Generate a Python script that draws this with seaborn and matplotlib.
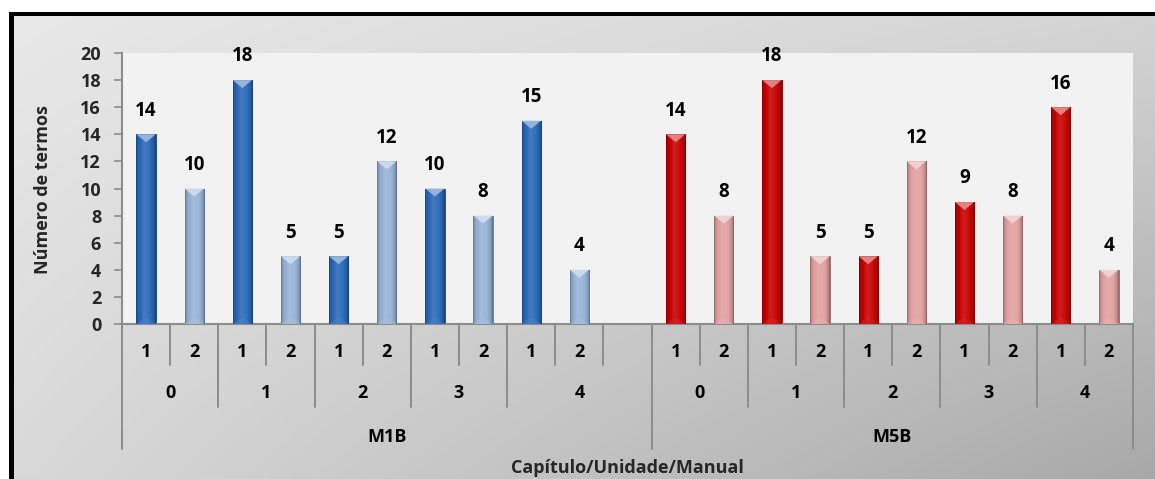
import numpy as np
import pandas as pd
import matplotlib
matplotlib.use("Agg")
import matplotlib.pyplot as plt
import matplotlib.transforms as mtransforms
from matplotlib.patches import Polygon, Rectangle
from matplotlib.colors import to_rgb
import seaborn as sns

# ---- data -------------------------------------------------------------
manuais = ["M1B", "M5B"]
capitulos = ["0", "1", "2", "3", "4"]
partes = ["1", "2"]
termos_m1b = [14, 10, 18, 5, 5, 12, 10, 8, 15, 4]
termos_m5b = [14, 8, 18, 5, 5, 12, 9, 8, 16, 4]

cores = {
    ("M1B", "1"): "#2a68b8",
    ("M1B", "2"): "#95b3d7",
    ("M5B", "1"): "#c80000",
    ("M5B", "2"): "#e0a0a0",
}

# ---- table: one row per bar, plus an empty slot between the manuals ----
rows = []
order = []
for m, valores in zip(manuais, [termos_m1b, termos_m5b]):
    k = 0
    for c in capitulos:
        for p in partes:
            key = f"{m}|{c}|{p}"
            order.append(key)
            rows.append({"slot": key, "termos": valores[k], "serie": f"{m}-{p}",
                         "manual": m, "cap": c, "parte": p})
            k += 1
    if m == manuais[0]:
        order.append("vazio")
df = pd.DataFrame(rows)
palette = {f"{m}-{p}": cores[(m, p)] for m in manuais for p in partes}

# ---- figure -----------------------------------------------------------
W, H = 1155, 479
sns.set_theme(style="white")
plt.rcParams["font.family"] = ["Open Sans", "DejaVu Sans"]
plt.rcParams["font.weight"] = "bold"
fig = plt.figure(figsize=(W / 100, H / 100), dpi=100)

# chart-area background: grey diagonal gradient inside a black frame
bg = fig.add_axes([0, 0, 1, 1], zorder=0)
bg.set_xlim(0, W)
bg.set_ylim(H, 0)
bg.axis("off")
xx, yy = np.meshgrid(np.linspace(0, 1, 300), np.linspace(0, 1, 150))
shade = 0.91 - 0.08 * xx - 0.06 * yy - 0.11 * xx * yy
bg.imshow(np.dstack([shade] * 3), extent=(14, W, H, 16), aspect="auto",
          interpolation="bilinear", zorder=0)
bg.add_patch(Rectangle((9, 12), 5, H - 12, color="black", lw=0, zorder=2))
bg.add_patch(Rectangle((9, 12), W - 9, 4, color="black", lw=0, zorder=2))

# plot area
x0, x1, ytop, ybot = 122, 1133, 53, 324
ax = fig.add_axes([x0 / W, (H - ybot) / H, (x1 - x0) / W, (ybot - ytop) / H], zorder=1)
ax.set_facecolor("#f2f2f2")

sns.barplot(data=df, x="slot", y="termos", hue="serie", order=order,
            palette=palette, dodge=False, width=0.4, legend=False, ax=ax,
            saturation=1, zorder=2)

ax.set_ylim(0, 20)
ax.set_xlim(-0.5, len(order) - 0.5)
ax.set_yticks(range(0, 21, 2))
ax.set_xticks([])
ax.set_xlabel("")
ax.set_ylabel("")
for s in ["top", "right"]:
    ax.spines[s].set_visible(False)
for s in ["left", "bottom"]:
    ax.spines[s].set_color("#8c8c8c")
    ax.spines[s].set_linewidth(1.5)
ax.tick_params(axis="y", direction="out", length=6, width=1.2, color="#8c8c8c",
               pad=9, labelsize=13, left=True)
for t in ax.get_yticklabels():
    t.set_fontweight("bold")


def mix(c, other, a):
    c, o = np.array(to_rgb(c)), np.array(to_rgb(other))
    return tuple(c * (1 - a) + o * a)


# bevelled look for each bar
px_per_unit = (ybot - ytop) / 20.0
bevel = 8 / px_per_unit
for bar in list(ax.patches):
    h = bar.get_height()
    if not np.isfinite(h) or h <= 0:
        continue
    bx, bw = bar.get_x(), bar.get_width()
    base = bar.get_facecolor()[:3]
    t = np.linspace(0, 1, 64)
    prof = np.interp(t, [0, 0.08, 0.4, 0.7, 0.92, 1], [-0.35, -0.1, 0.12, 0.05, -0.15, -0.4])
    cols = np.array([mix(base, "white", v) if v > 0 else mix(base, "black", -v) for v in prof])
    img = ax.imshow(cols[None, :, :], extent=(bx, bx + bw, 0, h), aspect="auto",
                    interpolation="bilinear", zorder=3)
    img.set_clip_path(bar)
    bar.set_edgecolor(mix(base, "black", 0.35))
    bar.set_linewidth(0.6)
    top = Polygon([(bx, h), (bx + bw, h), (bx + bw / 2, h - bevel)], closed=True,
                  facecolor=mix(base, "white", 0.5), edgecolor="none", zorder=4)
    ax.add_patch(top)
    bottom = Polygon([(bx, 0), (bx + bw, 0), (bx + bw / 2, bevel * 0.9)], closed=True,
                     facecolor=mix(base, "white", 0.15), edgecolor="none", alpha=0.5, zorder=4)
    ax.add_patch(bottom)
    ax.annotate(f"{int(h)}", (bx + bw / 2, h), xytext=(0, 17), textcoords="offset points",
                ha="center", va="center", fontsize=13.5, fontweight="bold", color="black",
                zorder=5)

# ---- multi-level category axis ----------------------------------------
tr = mtransforms.blended_transform_factory(ax.transData, fig.transFigure)


def fy(p):
    return (H - p) / H


line_kw = dict(color="#8c8c8c", lw=1.4, clip_on=False, transform=tr, zorder=3)
row_ends = {1: 365, 2: 407, 3: 449}
n = len(order)
for b in range(n + 1):
    xb = b - 0.5
    if b in (0, n) or order[b - 1] == "vazio":
        level = 3
    else:
        left, right = order[b - 1], order[b]
        if right == "vazio":
            level = 1
        elif left.split("|")[0] != right.split("|")[0]:
            level = 3
        elif left.split("|")[1] != right.split("|")[1]:
            level = 2
        else:
            level = 1
    fig.add_artist(plt.Line2D([xb, xb], [fy(ybot), fy(row_ends[level])], **line_kw))

lab_kw = dict(transform=tr, ha="center", va="center", fontsize=13, fontweight="bold",
              color="black")
for i, key in enumerate(order):
    if key == "vazio":
        continue
    fig.text(i, fy(352), key.split("|")[2], **lab_kw)

for m in manuais:
    idx = [i for i, k in enumerate(order) if k.startswith(m + "|")]
    for c in capitulos:
        ci = [i for i in idx if order[i].split("|")[1] == c]
        lo, hi = min(ci), max(ci)
        if hi + 1 < n and order[hi + 1] == "vazio":
            hi += 1
        fig.text((lo + hi) / 2, fy(393), c, **lab_kw)
    lo, hi = min(idx), max(idx)
    if hi + 1 < n and order[hi + 1] == "vazio":
        hi += 1
    fig.text((lo + hi) / 2, fy(437), m, **lab_kw)

fig.text((x0 + x1) / 2 / W, fy(468), "Capítulo/Unidade/Manual", ha="center",
         va="center", fontsize=13, fontweight="bold")
fig.text(43 / W, fy(190), "Número de termos", rotation=90, ha="center",
         va="center", fontsize=13, fontweight="bold")

fig.savefig("out.png", dpi=100)
